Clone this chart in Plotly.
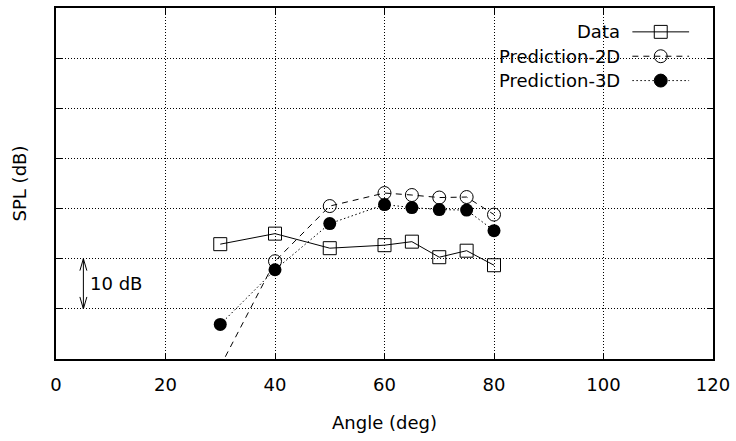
import plotly.graph_objects as go

# ---- data ----
angle = [30, 40, 50, 60, 65, 70, 75, 80]
spl_data = [22.9, 25.0, 22.1, 22.7, 23.4, 20.3, 21.6, 18.7]
spl_pred2d = [-1.5, 19.5, 30.5, 33.1, 32.7, 32.2, 32.3, 28.8]
spl_pred3d = [6.9, 17.8, 27.0, 30.8, 30.2, 29.8, 29.7, 25.6]
series_names = ["Data", "Prediction-2D", "Prediction-3D"]
x_ticks = [0, 20, 40, 60, 80, 100, 120]
scale_bar_x = 5
scale_bar_y = [10, 20]
scale_bar_label = "10 dB"

# ---- layout constants ----
W, H = 736, 441
ML, MR, MT, MB = 56, 20, 6, 82
PW, PH = W - ML - MR, H - MT - MB
FONT = "DejaVu Sans"
FS = 18
X_RANGE = [0, 120]
Y_RANGE = [0, 70]


def px2paper_x(px):
    return (px - ML) / PW


def px2paper_y(py):
    return 1 - (py - MT) / PH


fig = go.Figure()

fig.add_trace(go.Scatter(
    x=angle, y=spl_data, mode="lines+markers", name=series_names[0],
    line=dict(color="black", width=1),
    marker=dict(symbol="square-open", size=13, color="black", line=dict(width=1)),
))
fig.add_trace(go.Scatter(
    x=angle, y=spl_pred2d, mode="lines+markers", name=series_names[1],
    line=dict(color="black", width=1, dash="6px,5px"),
    marker=dict(symbol="circle-open", size=13, color="black", line=dict(width=1)),
))
fig.add_trace(go.Scatter(
    x=angle, y=spl_pred3d, mode="lines+markers", name=series_names[2],
    line=dict(color="black", width=1, dash="1.5px,2.5px"),
    marker=dict(symbol="circle", size=13, color="black"),
))

shapes = []
annotations = []

# scale bar (10 dB double arrow)
xs = PW / (X_RANGE[1] - X_RANGE[0])
ys = PH / (Y_RANGE[1] - Y_RANGE[0])
hw = 3.5 / xs
hl = 12 / ys
y0, y1 = scale_bar_y
shapes.append(dict(type="line", xref="x", yref="y", x0=scale_bar_x, x1=scale_bar_x,
                   y0=y0, y1=y1, line=dict(color="black", width=1)))
shapes.append(dict(type="path", xref="x", yref="y",
                   path=f"M{scale_bar_x - hw},{y1 - hl} L{scale_bar_x},{y1} L{scale_bar_x + hw},{y1 - hl}",
                   line=dict(color="black", width=1)))
shapes.append(dict(type="path", xref="x", yref="y",
                   path=f"M{scale_bar_x - hw},{y0 + hl} L{scale_bar_x},{y0} L{scale_bar_x + hw},{y0 + hl}",
                   line=dict(color="black", width=1)))
annotations.append(dict(x=scale_bar_x + 5 / xs, y=(y0 + y1) / 2, xref="x", yref="y",
                        text=scale_bar_label, showarrow=False, xanchor="left", yanchor="middle",
                        font=dict(family=FONT, size=FS, color="black")))

# custom gnuplot-style legend (text right, sample left)
leg_rows = [30, 54.5, 79]
leg_text_right = 625
leg_x0, leg_x1 = 635, 692
leg_mx = (leg_x0 + leg_x1) / 2
dashes = ["solid", "6px,5px", "1.5px,2.5px"]
r = 6.5
for i, (name, py) in enumerate(zip(series_names, leg_rows)):
    annotations.append(dict(x=px2paper_x(leg_text_right), y=px2paper_y(py), xref="paper", yref="paper",
                            text=name, showarrow=False, xanchor="right", yanchor="middle",
                            font=dict(family=FONT, size=FS, color="black")))
    shapes.append(dict(type="line", xref="paper", yref="paper",
                       x0=px2paper_x(leg_x0), x1=px2paper_x(leg_x1),
                       y0=px2paper_y(py), y1=px2paper_y(py),
                       line=dict(color="black", width=1, dash=dashes[i])))
    box = dict(xref="paper", yref="paper",
               x0=px2paper_x(leg_mx - r), x1=px2paper_x(leg_mx + r),
               y0=px2paper_y(py + r), y1=px2paper_y(py - r))
    if i == 0:
        shapes.append(dict(type="rect", line=dict(color="black", width=1), fillcolor="rgba(0,0,0,0)", **box))
    elif i == 1:
        shapes.append(dict(type="circle", line=dict(color="black", width=1), fillcolor="rgba(0,0,0,0)", **box))
    else:
        shapes.append(dict(type="circle", line=dict(color="black", width=1), fillcolor="black", **box))

axis_common = dict(
    showline=True, linecolor="black", linewidth=1.5, mirror="ticks",
    ticks="inside", ticklen=6, tickcolor="black", tickwidth=1,
    showgrid=True, gridcolor="black", gridwidth=1, griddash="1px,2px",
    zeroline=False,
)

fig.update_layout(
    width=W, height=H,
    margin=dict(l=ML, r=MR, t=MT, b=MB),
    paper_bgcolor="white", plot_bgcolor="white",
    showlegend=False,
    font=dict(family=FONT, size=FS, color="black"),
    xaxis=dict(range=X_RANGE, tickvals=x_ticks, ticktext=[str(v) for v in x_ticks],
               ticklabelstandoff=9,
               title=dict(text="Angle (deg)", standoff=22, font=dict(size=FS)),
               tickfont=dict(size=FS), **axis_common),
    yaxis=dict(range=Y_RANGE, dtick=10, showticklabels=False,
               title=dict(text="SPL (dB)", standoff=23, font=dict(size=FS)),
               **axis_common),
    shapes=shapes, annotations=annotations,
)

fig.write_html("out.html", config={"displayModeBar": False},
               post_script="document.body.style.margin='0';")
